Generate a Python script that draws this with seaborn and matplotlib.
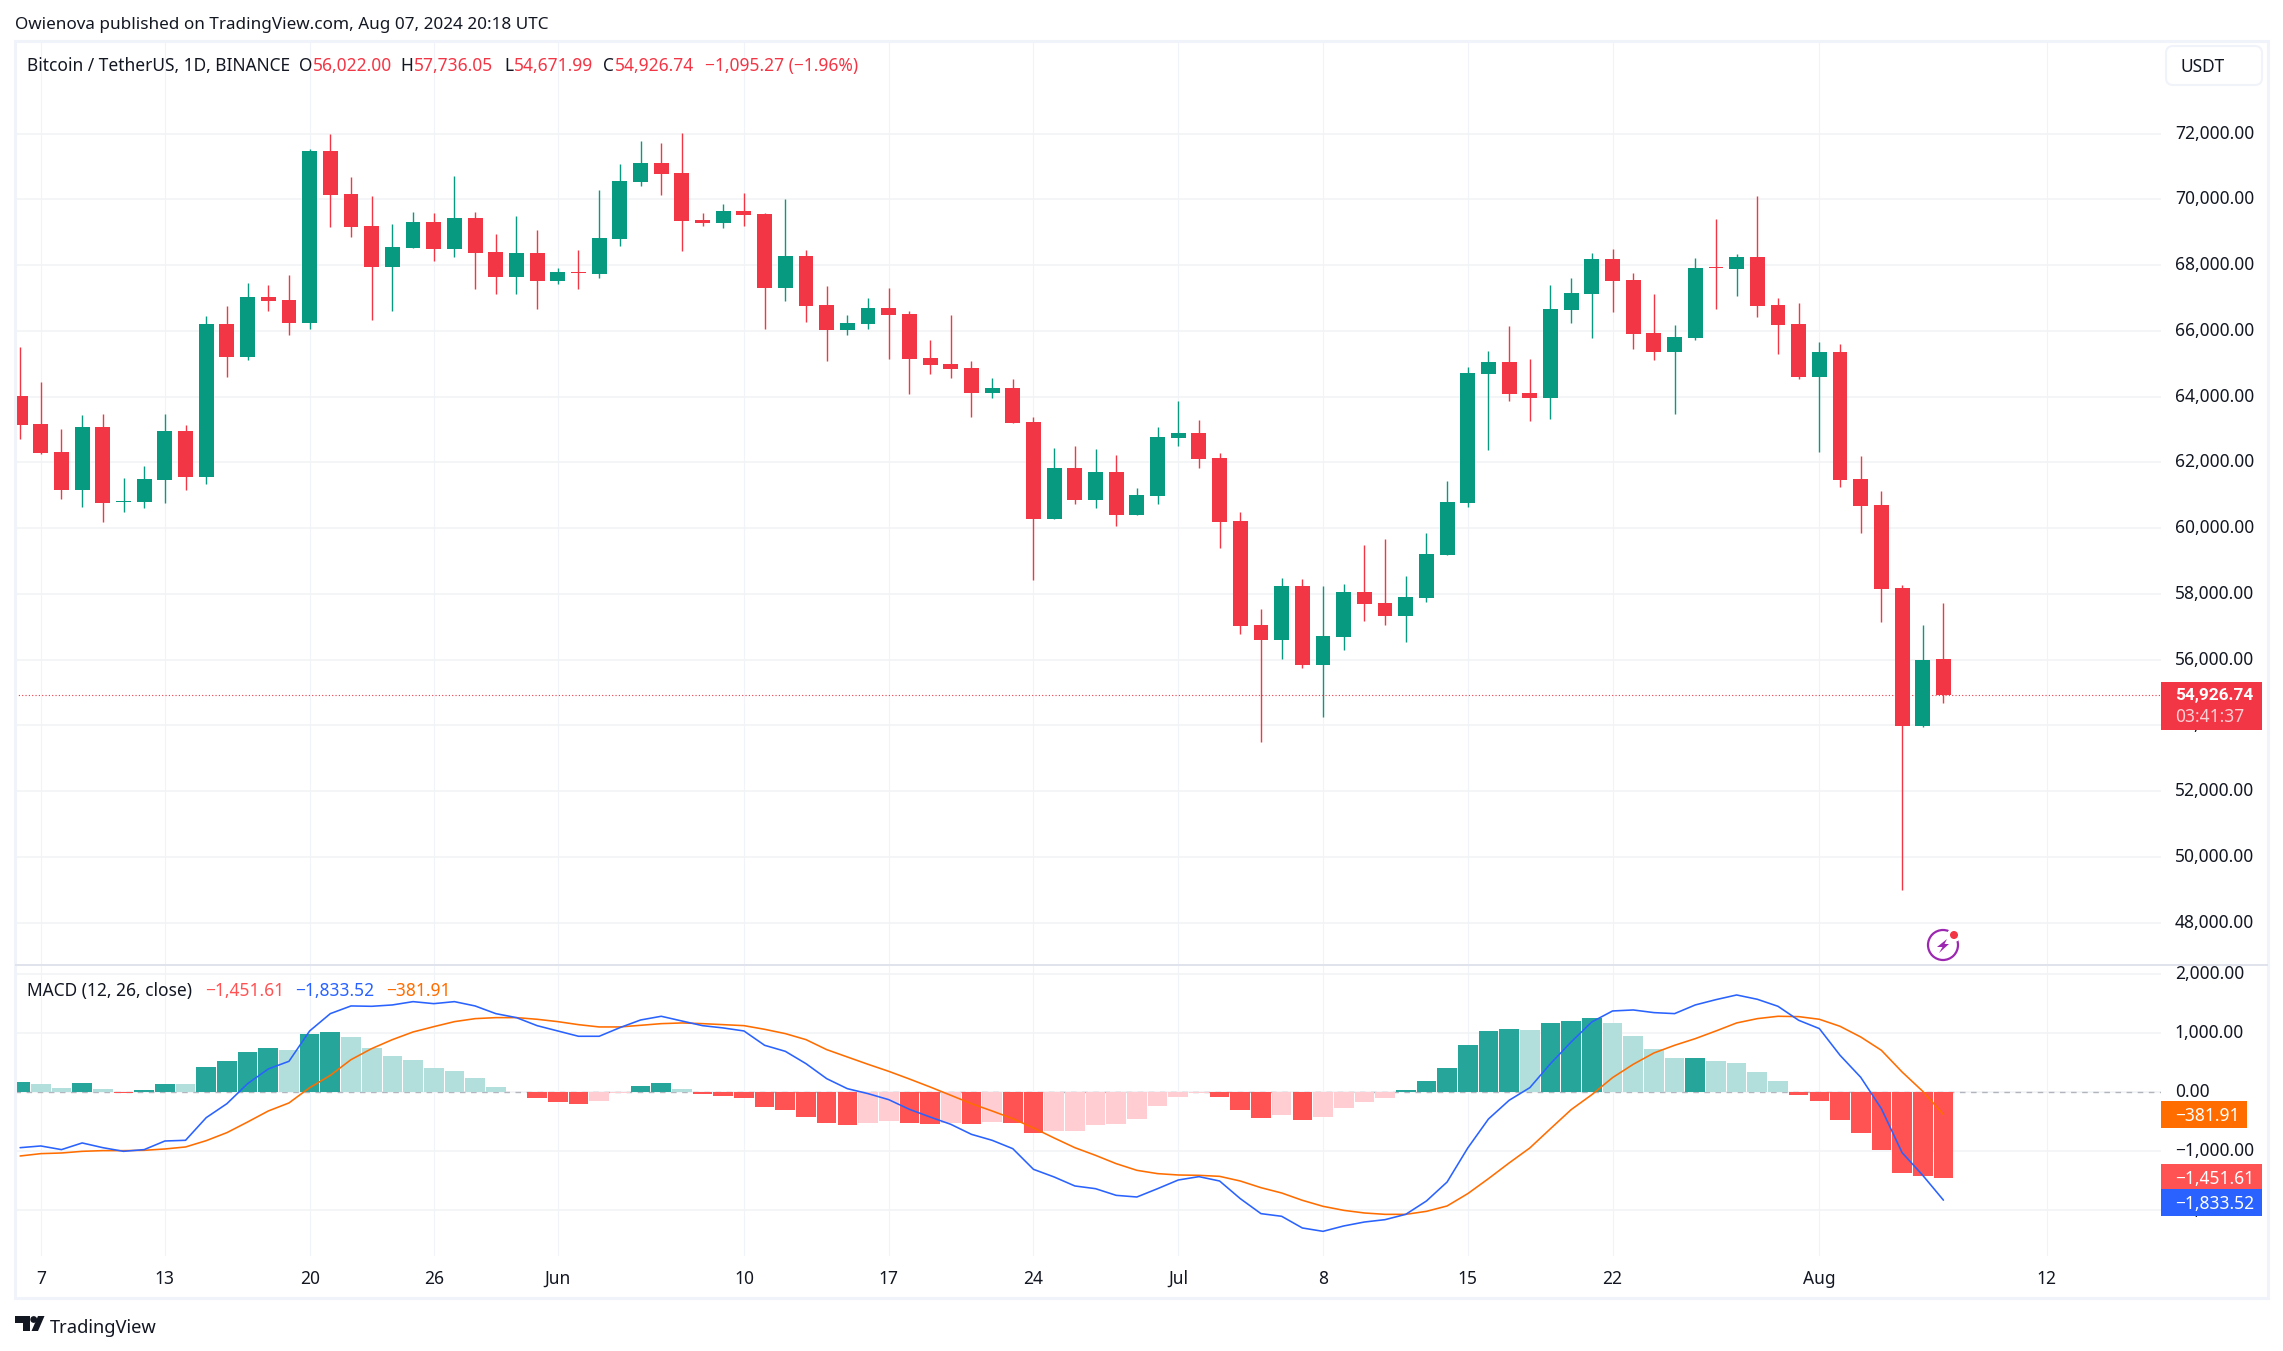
import matplotlib
matplotlib.use("Agg")
import matplotlib.pyplot as plt
import matplotlib.transforms as mtransforms
from matplotlib.patches import Rectangle, Polygon, Circle, FancyBboxPatch
from matplotlib.ticker import FuncFormatter
import seaborn as sns
import pandas as pd

# daily BTC/USDT candles, 6 May - 7 Aug 2024
opens = [64018,63167,62316,61161,63075,60806,60796,61465,62954,61556,66206,65203,67026,66935,66236,71463,70156,69184,67938,68515,
         69305,68485,69427,68394,67634,68363,67512,67786,67725,68789,70521,71098,70795,69366,69275,69640,69549,67300,68272,66783,
         66023,66206,66692,66510,65172,64990,64868,64109,64261,63227,60279,61829,60857,61708,60401,60979,62741,62893,62133,60219,
         57058,56602,58243,55843,56694,58061,57727,57332,57879,59186,60766,64686,65051,64109,63958,66630,67127,68183,67546,65931,
         65356,65791,67934,67888,68245,66785,66210,64595,65356,61489,60697,58181,53973,56022.00]
highs = [65507,64443,63015,63440,63471,61526,61890,63471,63136,66449,66753,67452,67391,67695,71524,71980,70673,70096,69245,69609,
         69579,70703,69609,68941,69488,69062,67907,68454,70278,71068,71767,71706,72010,69579,69852,70187,69579,70004,68454,67360,
         66479,66996,67300,66601,65719,66479,65081,64565,64534,63379,62437,62498,62407,62225,61222,63075,63866,63288,62285,60492,
         57544,58487,58456,58243,58304,59489,59672,58547,59854,61434,64899,65385,66145,65142,67391,67608,68369,68493,67763,67127,
         66179,68214,69409,68338,70108,67002,66847,65667,65605,62188,61132,58274,57048,57736.05]
lows = [62711,62255,60887,60644,60199,60492,60614,60766,61161,61343,64595,65112,66601,65871,66054,69153,68850,66327,66601,68515,
        68120,68242,67269,67117,67117,66661,67421,67269,67604,68576,70399,70126,68424,69184,69123,69184,66054,66905,66266,65081,
        65871,66054,65142,64078,64686,64565,63379,63957,63197,58426,60279,60735,60614,60067,60401,60735,62498,61829,59398,56785,
        53503,56025,55751,54262,56298,57180,57058,56542,57757,59186,60644,62376,63866,63258,63322,66241,65791,66567,65449,65108,
        63477,65729,66661,67064,66428,65294,64533,62312,61241,59843,57141,48987,53942,54671.99]
closes = [63136,62285,61161,63075,60766,60827,61495,62954,61556,66206,65203,67026,66905,66236,71463,70126,69153,67938,68546,69305,
          68485,69427,68363,67634,68363,67512,67786,67756,68819,70551,71098,70764,69336,69275,69640,69518,67300,68272,66753,66023,
          66236,66692,66479,65142,64960,64838,64109,64261,63197,60279,61829,60857,61708,60401,61009,62772,62893,62103,60188,57028,
          56602,58243,55843,56724,58061,57696,57332,57909,59216,60796,64717,65051,64078,63957,66661,67158,68183,67515,65900,65356,
          65806,67919,67903,68245,66754,66179,64595,65356,61458,60666,58150,53973,56007,54926.74]

hist = [164,141,62,147,45,-22,28,130,128,418,520,672,740,706,977,1011,927,740,605,537,
        401,350,232,79,-8,-107,-175,-209,-158,-22,96,147,45,-40,-73,-107,-260,-311,-429,-531,
        -565,-531,-497,-531,-548,-531,-548,-514,-531,-701,-667,-666,-565,-548,-463,-243,-90,-22,-90,-311,
        -446,-396,-480,-429,-277,-175,-107,28,181,401,791,1028,1062,1045,1164,1198,1249,1164,944,723,
        571,573,520,486,333,181,-56,-158,-480,-701,-989,-1379,-1429,-1451.61]
macd_line = [-944,-915,-977,-864,-944,-1006,-977,-831,-819,-435,-198,141,390,520,1034,1328,1458,1452,1475,1531,
             1497,1531,1458,1328,1260,1124,1034,944,944,1090,1220,1283,1203,1124,1085,1034,791,689,480,226,
             56,-28,-130,-294,-424,-548,-718,-819,-961,-1311,-1441,-1593,-1639,-1752,-1780,-1639,-1492,-1435,-1509,-1808,
             -2062,-2107,-2305,-2362,-2271,-2204,-2164,-2074,-1848,-1526,-949,-458,-141,73,480,848,1187,1373,1390,1345,
             1328,1475,1565,1644,1571,1452,1215,1074,622,249,-283,-1028,-1413,-1833.52]
signal_line = [-1085,-1045,-1034,-1006,-994,-994,-989,-966,-932,-825,-689,-509,-322,-186,73,282,548,735,887,1017,
               1107,1192,1243,1260,1260,1232,1192,1141,1102,1102,1130,1158,1170,1158,1141,1124,1062,989,887,718,
               593,469,350,220,85,-56,-198,-322,-452,-610,-780,-944,-1074,-1215,-1328,-1384,-1407,-1413,-1430,-1509,
               -1622,-1712,-1836,-1938,-2006,-2051,-2074,-2074,-2023,-1932,-1723,-1469,-1203,-949,-622,-299,-45,243,469,661,
               791,904,1034,1170,1243,1283,1277,1232,1113,932,706,339,11,-381.91]
days = list(range(len(closes)))

tick_days = [1, 7, 14, 20, 26, 35, 42, 49, 56, 63, 70, 77, 87, 98]
tick_labels = ["7", "13", "20", "26", "Jun", "10", "17", "24", "Jul", "8", "15", "22", "Aug", "12"]
price_ticks = list(range(48000, 72001, 2000))
macd_ticks = [-2000, -1000, 0, 1000, 2000]

GREEN = "#089981"
RED = "#F23645"
TEXT = "#131722"
BLUE = "#2962FF"
ORANGE = "#FF6D00"
HRED = "#FF5252"
hist_colors = {"up": "#26A69A", "up_fade": "#B2DFDB", "down": HRED, "down_fade": "#FFCDD2"}

def hist_shade(i):
    v = hist[i]
    prev = hist[i - 1] if i > 0 else 0
    if v >= 0:
        return "up" if v > prev else "up_fade"
    return "down" if v < prev else "down_fade"

df = pd.DataFrame({"day": days, "hist": hist, "macd": macd_line, "signal": signal_line,
                   "shade": [hist_shade(i) for i in days]})

sns.set_theme(style="white")
plt.rcParams["font.family"] = ["Noto Sans", "DejaVu Sans"]

W, H = 2283, 1351
fig = plt.figure(figsize=(W / 100, H / 100), dpi=100, facecolor="white")
px = mtransforms.Affine2D().scale(1 / W, -1 / H).translate(0, 1) + fig.transFigure

ax = fig.add_axes([15 / W, 1 - 965 / H, 2146 / W, 924 / H])
ax2 = fig.add_axes([15 / W, 1 - 1256 / H, 2146 / W, 291 / H])

# candles
candle_colors = [GREEN if c >= o else RED for o, c in zip(opens, closes)]
ax.vlines(days, lows, highs, colors=candle_colors, linewidth=1.0, zorder=3)
ax.bar(days, [abs(c - o) for o, c in zip(opens, closes)], bottom=[min(o, c) for o, c in zip(opens, closes)],
       width=0.72, color=candle_colors, linewidth=0, zorder=4)
ax.axhline(closes[-1], color=RED, linewidth=0.8, linestyle=(0, (1, 2)), zorder=2)

# macd pane
ax2.axhline(0, color="#B2B5BE", linewidth=1.0, linestyle=(0, (4, 4)), zorder=1)
sns.barplot(data=df, x="day", y="hist", hue="shade", palette=hist_colors, dodge=False, native_scale=True,
            width=0.95, saturation=1, legend=False, errorbar=None, linewidth=0, ax=ax2, zorder=2)
sns.lineplot(data=df, x="day", y="signal", color=ORANGE, linewidth=1.15, ax=ax2, zorder=3)
sns.lineplot(data=df, x="day", y="macd", color=BLUE, linewidth=1.15, ax=ax2, zorder=4)

for a in (ax, ax2):
    a.set_xlim(-0.247, 103.52)
    a.set_xticks(tick_days)
    a.set_xlabel("")
    a.set_ylabel("")
    a.yaxis.tick_right()
    a.set_axisbelow(True)
    a.grid(axis="y", color="#F2F3F5", linewidth=1.2)
    a.grid(axis="x", color="#F0F3FA", linewidth=0.8)
    a.tick_params(axis="both", length=0, labelsize=12.5, labelcolor=TEXT)
    a.tick_params(axis="y", pad=10)
    a.patch.set_alpha(0)
    for s in a.spines.values():
        s.set_visible(False)

fmt = FuncFormatter(lambda v, pos: f"{v:,.2f}".replace("-", "\u2212"))
ax.set_ylim(46715, 74820)
ax.set_yticks(price_ticks)
ax.yaxis.set_major_formatter(fmt)
ax.tick_params(axis="x", labelbottom=False)
ax2.set_ylim(-2780, 2152)
ax2.set_yticks(macd_ticks)
ax2.yaxis.set_major_formatter(fmt)
ax2.set_xticklabels(tick_labels)
ax2.tick_params(axis="x", pad=10)

# axis labels sit a little above their gridlines
nudge = mtransforms.ScaledTranslation(0, 2 / 100, fig.dpi_scale_trans)
for a in (ax, ax2):
    for lab in a.get_yticklabels():
        lab.set_transform(lab.get_transform() + nudge)

def txt(x, y, s, color=TEXT, size=12.5, **kw):
    fig.text(x / W, 1 - y / H, s, color=color, fontsize=size, va="center_baseline", ha=kw.pop("ha", "left"), zorder=9, **kw)

def rect(x0, y0, x1, y1, color):
    fig.add_artist(Rectangle((x0, y0), x1 - x0, y1 - y0, transform=px, facecolor=color, edgecolor="none", zorder=8))

# outer frame and pane separator
fig.add_artist(Rectangle((15, 41), 2253, 1257, transform=px, facecolor="none", edgecolor="#F0F3FA", linewidth=2.2, zorder=7))
fig.add_artist(Rectangle((15, 964), 2253, 1.5, transform=px, facecolor="#E0E3EB", edgecolor="none", zorder=7))

txt(15, 23, "Owienova published on TradingView.com, Aug 07, 2024 20:18 UTC", size=12.3)

# price legend
txt(27, 64, "Bitcoin / TetherUS, 1D, BINANCE")
legend_parts = [(313, "O", "56,022.00"), (414, "H", "57,736.05"), (514, "L", "54,671.99"), (615, "C", "54,926.74")]
for x, letter, val in legend_parts:
    txt(x - 1, 64, letter, ha="right")
    txt(x, 64, val, color=RED)
txt(705, 64, "\u22121,095.27 (\u22121.96%)", color=RED)

# macd legend
txt(27, 989, "MACD (12, 26, close)")
txt(205, 989, "\u22121,451.61", color=HRED)
txt(295, 989, "\u22121,833.52", color=BLUE)
txt(386, 989, "\u2212381.91", color=ORANGE)

# USDT selector
fig.add_artist(FancyBboxPatch((2171, 51), 86, 29, boxstyle="round,pad=5,rounding_size=7", transform=px,
                              facecolor="white", edgecolor="#F0F3FA", linewidth=1.5, zorder=8))
txt(2181, 65, "USDT")

# price tags
rect(2161, 682, 2262, 730, RED)
txt(2175, 694, "54,926.74", color="white", family=["Roboto", "DejaVu Sans"], fontweight="bold", size=12.4)
txt(2175, 715, "03:41:37", color="#FBD0D5")
rect(2161, 1101, 2247, 1128, ORANGE)
txt(2175, 1114, "\u2212381.91", color="white")
rect(2161, 1164, 2262, 1190, HRED)
txt(2175, 1177, "\u22121,451.61", color="white")
rect(2161, 1189, 2262, 1216, BLUE)
txt(2175, 1202, "\u22121,833.52", color="white")

# snapshot icon
fig.add_artist(Circle((1943, 945), 15, transform=px, facecolor="none", edgecolor="#9C27B0", linewidth=1.6, zorder=8))
fig.add_artist(Circle((1954, 935), 7, transform=px, facecolor="white", edgecolor="none", zorder=8))
fig.add_artist(Circle((1954, 935), 4, transform=px, facecolor=RED, edgecolor="none", zorder=8))
fig.add_artist(Polygon([(1947, 939), (1937, 947), (1942.5, 947), (1939, 953), (1949, 944), (1944.5, 944)],
                       transform=px, facecolor="#9C27B0", edgecolor="none", zorder=8))

# TradingView logo
logo = "#131722"
fig.add_artist(Polygon([(15, 1316), (30, 1316), (30, 1331), (23, 1331), (23, 1323), (15, 1323)], transform=px,
                       facecolor=logo, edgecolor="none", zorder=8))
fig.add_artist(Circle((33.7, 1319.5), 3.4, transform=px, facecolor=logo, edgecolor="none", zorder=8))
fig.add_artist(Polygon([(38, 1316), (44.5, 1316), (38, 1331), (31.5, 1331)], transform=px,
                       facecolor=logo, edgecolor="none", zorder=8))
txt(50, 1326, "TradingView", size=13.2)

fig.savefig("out.png", dpi=100)
